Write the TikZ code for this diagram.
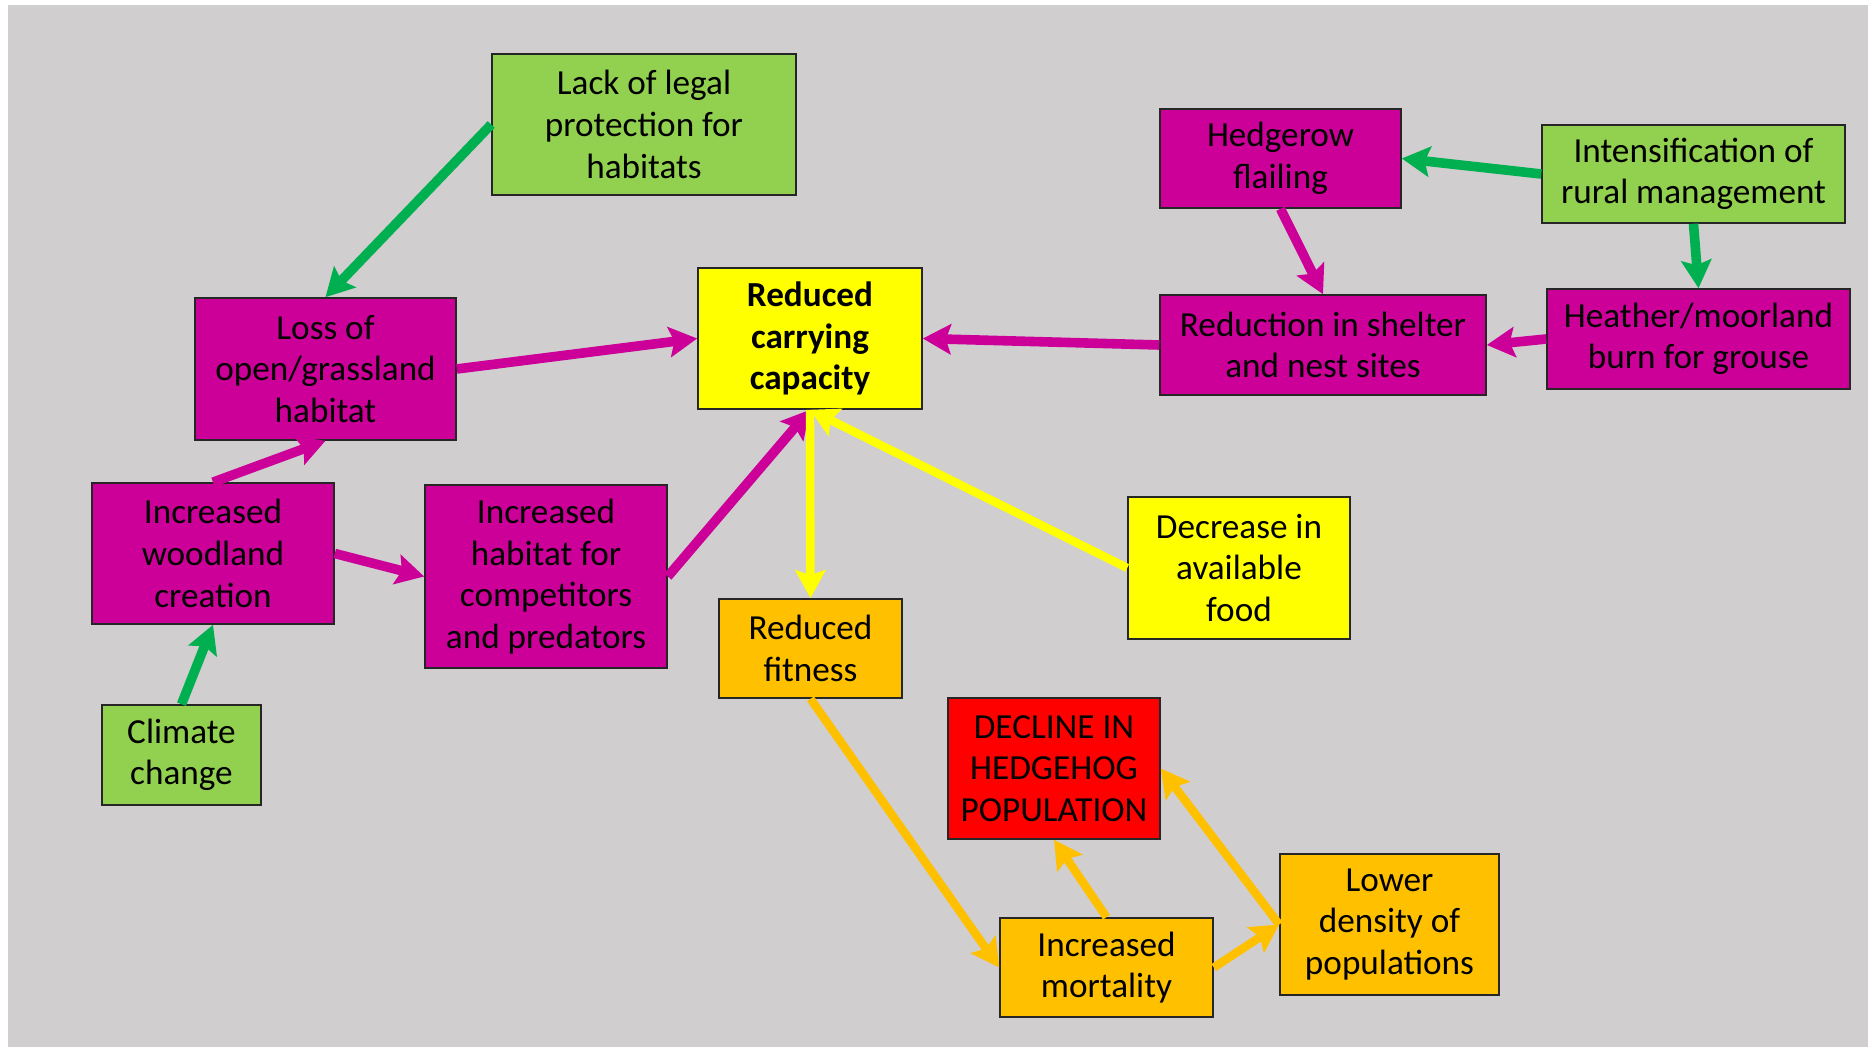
\documentclass[tikz,border=0pt]{standalone}
\usepackage{fontspec}
\setmainfont{Carlito}
\usetikzlibrary{arrows.meta}

\definecolor{bggrey}{HTML}{D0CECE}
\definecolor{magbox}{HTML}{CC0099}
\definecolor{leafbox}{HTML}{92D050}
\definecolor{leafarrow}{HTML}{00B050}
\definecolor{sunbox}{HTML}{FFFF00}
\definecolor{amberbox}{HTML}{FFC000}
\definecolor{alertbox}{HTML}{FF0000}
\definecolor{edge}{HTML}{262626}

\tikzset{
  box/.style={draw=edge, line width=0.8pt, rectangle, inner sep=0pt,
    align=center, text=black,
    font=\fontsize{17.6}{20.8}\selectfont},
  link/.style={line width=4.8pt,
    -{Stealth[length=14pt,width=15pt,inset=2.5pt]}},
  greenlink/.style={link, draw=leafarrow, fill=leafarrow},
  maglink/.style={link, draw=magbox, fill=magbox},
  yellowlink/.style={link, line width=4.2pt, draw=sunbox, fill=sunbox},
  amberlink/.style={link, line width=4.2pt, draw=amberbox, fill=amberbox},
}

\begin{document}
\begin{tikzpicture}[x=0.5pt, y=-0.5pt]
  % page and grey panel
  \fill[white] (0,0) rectangle (1868,1047);
  \fill[bggrey] (8,5) rectangle (1868,1047);
  \useasboundingbox (0,0) rectangle (1868,1047);

  % causes and effects
  \node[box, fill=leafbox, minimum width=152pt, minimum height=70.5pt]
    (lack) at (644,124.5) {Lack of legal\\protection for\\habitats};
  \node[box, fill=magbox, minimum width=120.5pt, minimum height=49.5pt]
    (hedge) at (1280.5,158.5) {Hedgerow\\flailing};
  \node[box, fill=leafbox, minimum width=151.5pt, minimum height=49pt]
    (intens) at (1693.5,174) {Intensification of\\rural management};
  \node[box, fill=sunbox, minimum width=112pt, minimum height=70.5pt,
    font=\fontsize{17.6}{20.8}\selectfont\bfseries]
    (rcc) at (810,338.5) {Reduced\\carrying\\capacity};
  \node[box, fill=magbox, minimum width=130.5pt, minimum height=71pt]
    (loss) at (325.5,369) {Loss of\\open/grassland\\habitat};
  \node[box, fill=magbox, minimum width=163pt, minimum height=50pt]
    (reduct) at (1323,345) {Reduction in shelter\\and nest sites};
  \node[box, fill=magbox, minimum width=151.5pt, minimum height=50pt]
    (heather) at (1698.5,339) {Heather/moorland\\burn for grouse};
  \node[box, fill=magbox, minimum width=121pt, minimum height=70.5pt]
    (wood) at (213,553.5) {Increased\\woodland\\creation};
  \node[box, fill=magbox, minimum width=121pt, minimum height=91.5pt]
    (comp) at (546,576.5) {Increased\\habitat for\\competitors\\and predators};
  \node[box, fill=amberbox, minimum width=91.5pt, minimum height=49.5pt]
    (fit) at (810.5,648.5) {Reduced\\fitness};
  \node[box, fill=sunbox, minimum width=111pt, minimum height=71pt]
    (food) at (1239,568) {Decrease in\\available\\food};
  \node[box, fill=leafbox, minimum width=79.5pt, minimum height=50pt]
    (climate) at (181.5,755) {Climate\\change};
  \node[box, fill=alertbox, minimum width=106pt, minimum height=70.5pt]
    (decline) at (1054,768.5) {DECLINE IN\\HEDGEHOG\\POPULATION};
  \node[box, fill=amberbox, minimum width=106.5pt, minimum height=49.5pt]
    (mort) at (1106.5,967.5) {Increased\\mortality};
  \node[box, fill=amberbox, minimum width=109.5pt, minimum height=70.5pt]
    (lower) at (1389.5,924.5) {Lower\\density of\\populations};

  % connectors
  \draw[greenlink] (lack.west) -- (loss.north);
  \draw[greenlink] (climate.north) -- (wood.south);
  \draw[greenlink] (intens.west) -- (hedge.east);
  \draw[greenlink] (intens.south) -- (heather.north);

  \draw[maglink] (loss.east) -- (rcc.west);
  \draw[maglink] (wood.north) -- (loss.south);
  \draw[maglink] (wood.east) -- (comp.west);
  \draw[maglink] (comp.east) -- (rcc.south);
  \draw[maglink] (reduct.west) -- (rcc.east);
  \draw[maglink] (hedge.south) -- (reduct.north);
  \draw[maglink] (heather.west) -- (reduct.east);

  \draw[yellowlink] (rcc.south) -- (fit.north);
  \draw[yellowlink] (food.west) -- (rcc.south);

  \draw[amberlink] (fit.south) -- (mort.west);
  \draw[amberlink] (mort.north) -- (decline.south);
  \draw[amberlink] (mort.east) -- (lower.west);
  \draw[amberlink] (lower.west) -- (decline.east);
\end{tikzpicture}
\end{document}
